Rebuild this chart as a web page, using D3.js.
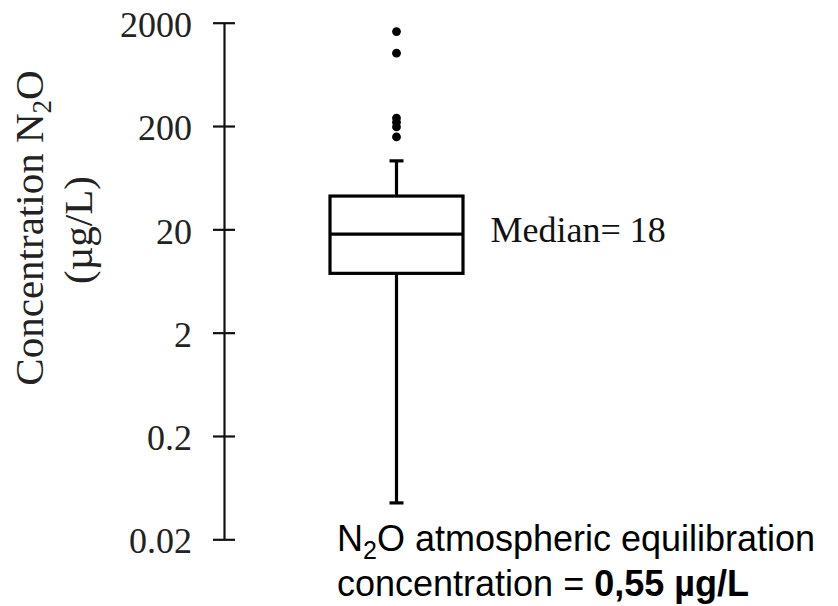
<!DOCTYPE html>
<html>
<head>
<meta charset="utf-8">
<script src="https://cdn.jsdelivr.net/npm/d3@7"></script>
<style>
  body { margin: 0; background: #fff; }
  svg { display: block; }
</style>
</head>
<body>
<div id="chart"></div>
<script>
// Data
const categories = ['N2O'];
const tickValues = [0.02, 0.2, 2, 20, 200, 2000];
const tickLabels = ['0.02', '0.2', '2', '20', '200', '2000'];
const statNames = ['lowerWhisker', 'q1', 'median', 'q3', 'upperWhisker'];
const statValues = [0.045, 7.5, 18, 42, 92];
const outliers = [157, 196, 217, 239, 1013, 1640];

const stats = Object.fromEntries(statNames.map((k, i) => [k, statValues[i]]));

// Dimensions
const width = 838, height = 606;

const svg = d3.select('#chart')
    .append('svg')
    .attr('width', width)
    .attr('height', height);

// Scales
const y = d3.scaleLog().domain([0.02, 2000]).range([539.3, 22.7]);
const x = d3.scaleBand().domain(categories).range([330, 463]).padding(0);
const axisX = 224;

// Y axis (labels only, ticks drawn across the line)
const yAxis = svg.append('g')
    .attr('transform', `translate(${axisX},0)`)
    .call(d3.axisLeft(y)
        .tickValues(tickValues)
        .tickFormat((d, i) => tickLabels[i])
        .tickSize(0)
        .tickPadding(32));

yAxis.select('.domain')
    .attr('stroke', '#111')
    .attr('stroke-width', 2.2);

yAxis.selectAll('.tick text')
    .attr('font-family', '"Liberation Serif", "Times New Roman", serif')
    .attr('font-size', 36)
    .attr('fill', '#222')
    .attr('dy', '0.38em');

yAxis.selectAll('.tick')
    .append('line')
    .attr('x1', -11)
    .attr('x2', 11)
    .attr('stroke', '#111')
    .attr('stroke-width', 2.2);

// Y axis title
const title = svg.append('text')
    .attr('transform', 'translate(43,228) rotate(-90)')
    .attr('text-anchor', 'middle')
    .attr('font-family', '"Liberation Serif", "Times New Roman", serif')
    .attr('font-size', 41)
    .attr('fill', '#222');
title.append('tspan').text('Concentration N');
title.append('tspan').attr('font-size', 27).attr('dy', '0.28em').text('2');
title.append('tspan').attr('dy', '-0.18em').text('O');

svg.append('text')
    .attr('transform', 'translate(92,230) rotate(-90)')
    .attr('text-anchor', 'middle')
    .attr('font-family', '"Liberation Serif", "Times New Roman", serif')
    .attr('font-size', 41)
    .attr('fill', '#222')
    .text('(µg/L)');

// Box plot
const cx = x('N2O') + x.bandwidth() / 2;
const capHalf = 7;
const box = svg.append('g')
    .attr('stroke', '#000')
    .attr('stroke-width', 3.2)
    .attr('fill', 'none');

// Whiskers
box.append('line')
    .attr('x1', cx).attr('x2', cx)
    .attr('y1', y(stats.q3)).attr('y2', y(stats.upperWhisker));
box.append('line')
    .attr('x1', cx).attr('x2', cx)
    .attr('y1', y(stats.q1)).attr('y2', y(stats.lowerWhisker));
box.selectAll('.cap')
    .data([stats.upperWhisker, stats.lowerWhisker])
    .join('line')
    .attr('class', 'cap')
    .attr('x1', cx - capHalf).attr('x2', cx + capHalf)
    .attr('y1', d => y(d)).attr('y2', d => y(d));

// Box and median
box.append('rect')
    .attr('x', x('N2O'))
    .attr('y', y(stats.q3))
    .attr('width', x.bandwidth())
    .attr('height', y(stats.q1) - y(stats.q3))
    .attr('fill', '#fff');
box.append('line')
    .attr('x1', x('N2O')).attr('x2', x('N2O') + x.bandwidth())
    .attr('y1', y(stats.median)).attr('y2', y(stats.median));

// Outliers
svg.selectAll('.outlier')
    .data(outliers)
    .join('circle')
    .attr('class', 'outlier')
    .attr('cx', cx)
    .attr('cy', d => y(d))
    .attr('r', 4.4)
    .attr('fill', '#000');

// Median annotation
svg.append('text')
    .attr('x', 490.5)
    .attr('y', y(stats.median) + 7.5)
    .attr('font-family', '"Liberation Serif", "Times New Roman", serif')
    .attr('font-size', 36)
    .attr('fill', '#111')
    .text('Median= ' + stats.median);

// Atmospheric equilibration note
const note = svg.append('g')
    .attr('font-family', '"Liberation Sans", Arial, sans-serif')
    .attr('font-size', 36)
    .attr('fill', '#000');
const line1 = note.append('text').attr('x', 337).attr('y', 551);
line1.append('tspan').text('N');
line1.append('tspan').attr('font-size', 25).attr('dy', '0.3em').text('2');
line1.append('tspan').attr('dy', '-0.2em').text('O atmospheric equilibration');

const line2 = note.append('text').attr('x', 337).attr('y', 596);
line2.append('tspan').text('concentration = ');
line2.append('tspan').attr('font-weight', 'bold').text('0,55 µg/L');
</script>
</body>
</html>
